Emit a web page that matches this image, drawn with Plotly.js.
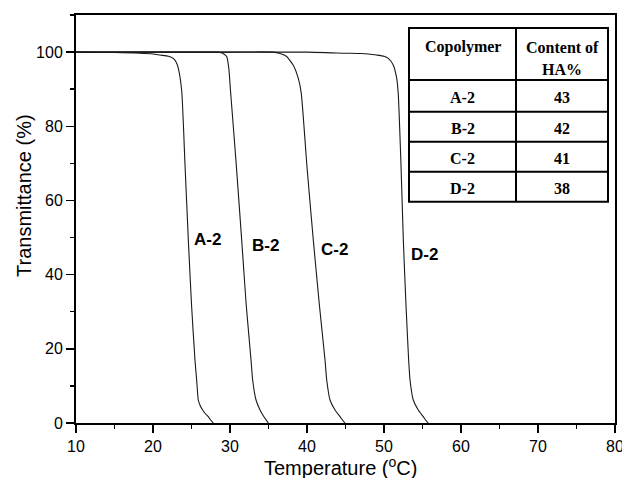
<!DOCTYPE html>
<html>
<head>
<meta charset="utf-8">
<script src="https://cdn.plot.ly/plotly-3.0.1.min.js"></script>
<style>html,body{margin:0;padding:0;background:#fff;}#chart{width:622px;height:478px;}</style>
</head>
<body>
<div id="chart"></div>
<script>
// ---- data ----
const seriesNames = ["A-2", "B-2", "C-2", "D-2"];

const tempA = [10, 15, 20, 20.9, 22.0, 22.64, 23.0, 23.29, 23.73, 24.15, 24.59, 25.0, 25.45, 25.67, 25.88, 26.15, 26.45, 26.8, 27.18, 27.5, 27.83];
const transA = [100, 99.9, 99.5, 99.2, 98.9, 98.3, 97.3, 95.6, 89.5, 70, 49.3, 32, 17, 11.6, 6.2, 4.6, 3.5, 2.5, 1.7, 0.8, 0];

const tempB = [10, 20, 25, 28.0, 28.7, 29.2, 29.57, 29.85, 30.05, 30.8, 31.52, 32.1, 32.73, 32.94, 33.38, 33.9, 34.4, 34.7, 34.98];
const transB = [100, 100, 100, 100, 99.9, 99.5, 98.8, 95.5, 90.0, 70, 49.3, 32, 17, 11.6, 6.2, 3.5, 1.7, 0.8, 0];

const tempC = [10, 30, 35.6, 36.5, 37.36, 38.2, 38.87, 39.25, 40.0, 40.82, 41.6, 42.34, 42.56, 42.99, 43.64, 44.29, 44.6, 44.94];
const transC = [100, 100, 100, 99.6, 98.8, 96.5, 92.9, 89, 69, 49.3, 32, 17, 11.6, 6.2, 3.5, 1.7, 0.8, 0];

const tempD = [10, 40, 45, 47, 49.05, 50.0, 50.56, 51.2, 51.65, 51.86, 52.2, 52.51, 52.85, 53.2, 53.38, 53.8, 54.45, 55.1, 55.4, 55.75];
const transD = [100, 100, 99.7, 99.6, 99.2, 98.9, 98.3, 96.5, 92.9, 88.4, 70, 49.3, 32, 17, 11.6, 6.2, 3.5, 1.7, 0.8, 0];

// curve label positions (data coords)
const labelX = [27.14, 34.55, 43.6, 55.26];
const labelY = [49.5, 47.8, 46.8, 45.3];

// inset table
const tableHeader = ["Copolymer", "Content of", "HA%"];
const tableCopolymer = ["A-2", "B-2", "C-2", "D-2"];
const tableContent = ["43", "42", "41", "38"];

const xTicks = [10, 20, 30, 40, 50, 60, 70, 80];
const yTicks = [0, 20, 40, 60, 80, 100];

// ---- layout helpers (pixel -> paper) ----
const M = {l: 76, r: 7, t: 15, b: 55};
const W = 622, H = 478;
const PW = W - M.l - M.r, PH = H - M.t - M.b;
const px = x => (x - M.l) / PW;
const py = y => (H - M.b - y) / PH;

const xs = [tempA, tempB, tempC, tempD];
const ys = [transA, transB, transC, transD];
const traces = seriesNames.map((n, i) => ({
  x: xs[i], y: ys[i], name: n, type: "scatter", mode: "lines",
  line: {color: "#1a1a1a", width: 1.1, shape: "spline", smoothing: 0.5},
  hoverinfo: "skip", showlegend: false
}));

const annotations = [];
const ann = (o) => annotations.push(Object.assign({showarrow: false, xanchor: "center", yanchor: "middle"}, o));

seriesNames.forEach((n, i) => ann({
  x: labelX[i], y: labelY[i], xref: "x", yref: "y", text: "<b>" + n + "</b>",
  font: {family: "Liberation Sans, Arial", size: 17, color: "#000"}
}));

// axis titles
ann({
  x: px(340), y: py(466), xref: "paper", yref: "paper",
  text: "Temperature (<sup>o</sup>C)",
  font: {family: "Liberation Sans, Arial", size: 20, color: "#000"}
});
ann({
  x: px(23.5), y: py(195.5), xref: "paper", yref: "paper",
  text: "Transmittance (%)", textangle: -90,
  font: {family: "Liberation Sans, Arial", size: 20, color: "#000"}
});

// table
const tL = 409, tR = 608, tC = 516, tT = 28;
const rowLines = [80, 111.7, 141.7, 171.7, 201.7];
const tB = rowLines[rowLines.length - 1];
const shapes = [];
const ln = {color: "#000", width: 2};
shapes.push({type: "rect", xref: "paper", yref: "paper", x0: px(tL), x1: px(tR), y0: py(tB), y1: py(tT), line: ln, fillcolor: "#fff", layer: "above"});
shapes.push({type: "line", xref: "paper", yref: "paper", x0: px(tC), x1: px(tC), y0: py(tB), y1: py(tT), line: ln, layer: "above"});
rowLines.slice(0, -1).forEach(r => shapes.push({type: "line", xref: "paper", yref: "paper", x0: px(tL), x1: px(tR), y0: py(r), y1: py(r), line: ln, layer: "above"}));

const tf = {family: "Liberation Serif, Times New Roman", size: 16, color: "#000"};
const c1 = (tL + tC) / 2, c2 = (tC + tR) / 2;
ann({x: px(c1), y: py(47), xref: "paper", yref: "paper", text: "<b>" + tableHeader[0] + "</b>", font: tf});
ann({x: px(c2), y: py(47), xref: "paper", yref: "paper", text: "<b>" + tableHeader[1] + "</b>", font: tf});
ann({x: px(c2), y: py(70), xref: "paper", yref: "paper", text: "<b>" + tableHeader[2] + "</b>", font: tf});
tableCopolymer.forEach((c, i) => {
  const yc = (rowLines[i] + rowLines[i + 1]) / 2 + 2;
  ann({x: px(c1), y: py(yc), xref: "paper", yref: "paper", text: "<b>" + c + "</b>", font: tf});
  ann({x: px(c2), y: py(yc), xref: "paper", yref: "paper", text: "<b>" + tableContent[i] + "</b>", font: tf});
});

const axisCommon = {
  showline: true, linecolor: "#000", linewidth: 2, mirror: true,
  ticks: "outside", ticklen: 8, tickwidth: 1.5, tickcolor: "#000",
  showgrid: false, zeroline: false, ticklabeloverflow: "allow",
  tickfont: {family: "Liberation Sans, Arial", size: 16, color: "#000"}
};

const layout = {
  width: W, height: H,
  margin: M,
  paper_bgcolor: "#fff", plot_bgcolor: "#fff",
  showlegend: false,
  xaxis: Object.assign({}, axisCommon, {
    range: [10, 80], tickvals: xTicks, ticktext: xTicks.map(String),
    minor: {ticks: "outside", ticklen: 4, tickwidth: 1.5, tickcolor: "#000", dtick: 5, tick0: 10, showgrid: false}
  }),
  yaxis: Object.assign({}, axisCommon, {
    range: [0, 110], tickvals: yTicks, ticktext: yTicks.map(String),
    minor: {ticks: "outside", ticklen: 4, tickwidth: 1.5, tickcolor: "#000", dtick: 10, tick0: 0, showgrid: false}
  }),
  shapes: shapes,
  annotations: annotations
};

Plotly.newPlot("chart", traces, layout, {displayModeBar: false, staticPlot: true});
</script>
</body>
</html>
